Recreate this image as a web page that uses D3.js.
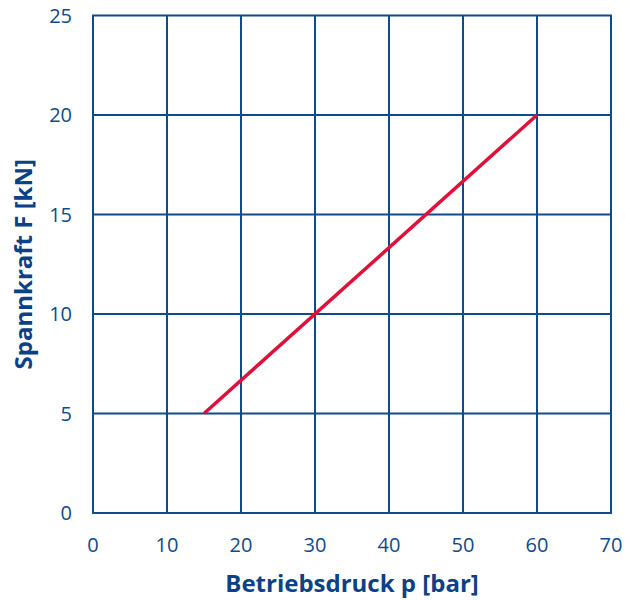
<!DOCTYPE html>
<html><head><meta charset="utf-8">
<script src="https://cdn.jsdelivr.net/npm/d3@7"></script>
<style>body{margin:0;background:#fff;} svg{display:block;}</style>
</head><body>
<script>
const xTicks = [0,10,20,30,40,50,60,70];
const yTicks = [0,5,10,15,20,25];
const pressure = [15, 60];
const force = [5, 20];
const xTitle = "Betriebsdruck p [bar]";
const yTitle = "Spannkraft F [kN]";

const W = 625, H = 600;
const m = {left:93, right:14, top:15.5, bottom:87};
const blue = "#0e4a8c", red = "#e0103a";
const svg = d3.select("body").append("svg").attr("width",W).attr("height",H);
const x = d3.scaleLinear().domain([0,70]).range([m.left, W-m.right]);
const y = d3.scaleLinear().domain([0,25]).range([H-m.bottom, m.top]);

const g = svg.append("g");
g.selectAll("line.v").data(xTicks).join("line")
  .attr("x1",d=>x(d)).attr("x2",d=>x(d)).attr("y1",y(0)).attr("y2",y(25))
  .attr("stroke",blue).attr("stroke-width",2);
g.selectAll("line.h").data(yTicks).join("line").attr("class","h")
  .attr("x1",x(0)-1).attr("x2",x(70)+1).attr("y1",d=>y(d)).attr("y2",d=>y(d))
  .attr("stroke",blue).attr("stroke-width",2);

const font = "'Open Sans', sans-serif";
svg.selectAll("text.xt").data(xTicks).join("text").attr("class","xt")
  .attr("x",d=>x(d)).attr("y",552).attr("text-anchor","middle")
  .attr("font-family",font).attr("font-size",20).attr("fill",blue).text(d=>d);
svg.selectAll("text.yt").data(yTicks).join("text").attr("class","yt")
  .attr("x",72).attr("y",d=>y(d)+7).attr("text-anchor","end")
  .attr("font-family",font).attr("font-size",20).attr("fill",blue).text(d=>d);

const data = pressure.map((p,i)=>({p, f:force[i]}));
svg.append("path").datum(data)
  .attr("d", d3.line().x(d=>x(d.p)).y(d=>y(d.f)))
  .attr("fill","none").attr("stroke",red).attr("stroke-width",3.5);

svg.append("text").attr("x",(x(0)+x(70))/2).attr("y",592).attr("text-anchor","middle")
  .attr("font-family",font).attr("font-weight","bold").attr("font-size",24).attr("fill","#0b4185").text(xTitle);
svg.append("text").attr("transform",`translate(32,${(y(0)+y(25))/2}) rotate(-90)`).attr("text-anchor","middle")
  .attr("font-family",font).attr("font-weight","bold").attr("font-size",24).attr("fill","#0b4185").text(yTitle);
</script>
</body></html>
